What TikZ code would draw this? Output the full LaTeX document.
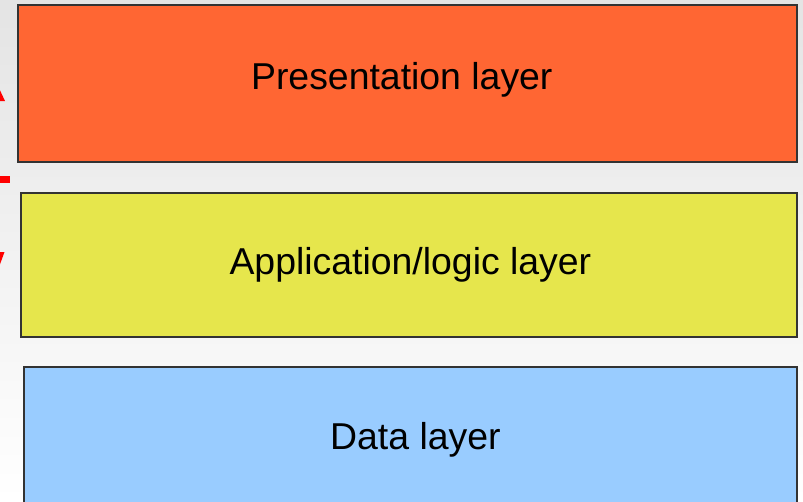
\documentclass[tikz,border=0pt]{standalone}
\usepackage{fontspec}
\setmainfont{Liberation Sans}
\begin{document}
\begin{tikzpicture}[x=1pt,y=-1pt,
  layerbox/.style={draw=boxedge,line width=1.2pt},
  layertext/.style={anchor=base,inner sep=0pt,font=\fontsize{37.4}{41}\selectfont,text=black},
  mark/.style={fill=markred}]
\definecolor{bgtop}{HTML}{E4E4E4}
\definecolor{boxedge}{HTML}{333333}
\definecolor{presfill}{HTML}{FF6633}
\definecolor{appfill}{HTML}{E6E64C}
\definecolor{datafill}{HTML}{99CCFF}
\definecolor{markred}{HTML}{FF0000}
\useasboundingbox (0,0) rectangle (803,501);
\clip (0,0) rectangle (803,501);
% page background
\shade[top color=bgtop,bottom color=white] (0,0) rectangle (803,501);
% red marks at the left edge
\fill[markred] (-2,86) -- (5,101) -- (-12,101) -- cycle;
\fill[markred] (-10,176) rectangle (10,183);
\fill[markred] (-12,252) -- (4.5,252) -- (-1,267) -- cycle;
% layers
\path[layerbox,fill=presfill] (18,5) rectangle (797,162) node[coordinate] (presbox) {};
\path[layerbox,fill=appfill] (21,193) rectangle (797,337) node[coordinate] (appbox) {};
\path[layerbox,fill=datafill] (24,367) rectangle (797,520) node[coordinate] (databox) {};
\node[layertext] (pres) at (401.8,89) {Presentation layer};
\node[layertext] (app) at (410.4,274.3) {Application/logic layer};
\node[layertext] (data) at (415.4,449.3) {Data layer};
\end{tikzpicture}
\end{document}
